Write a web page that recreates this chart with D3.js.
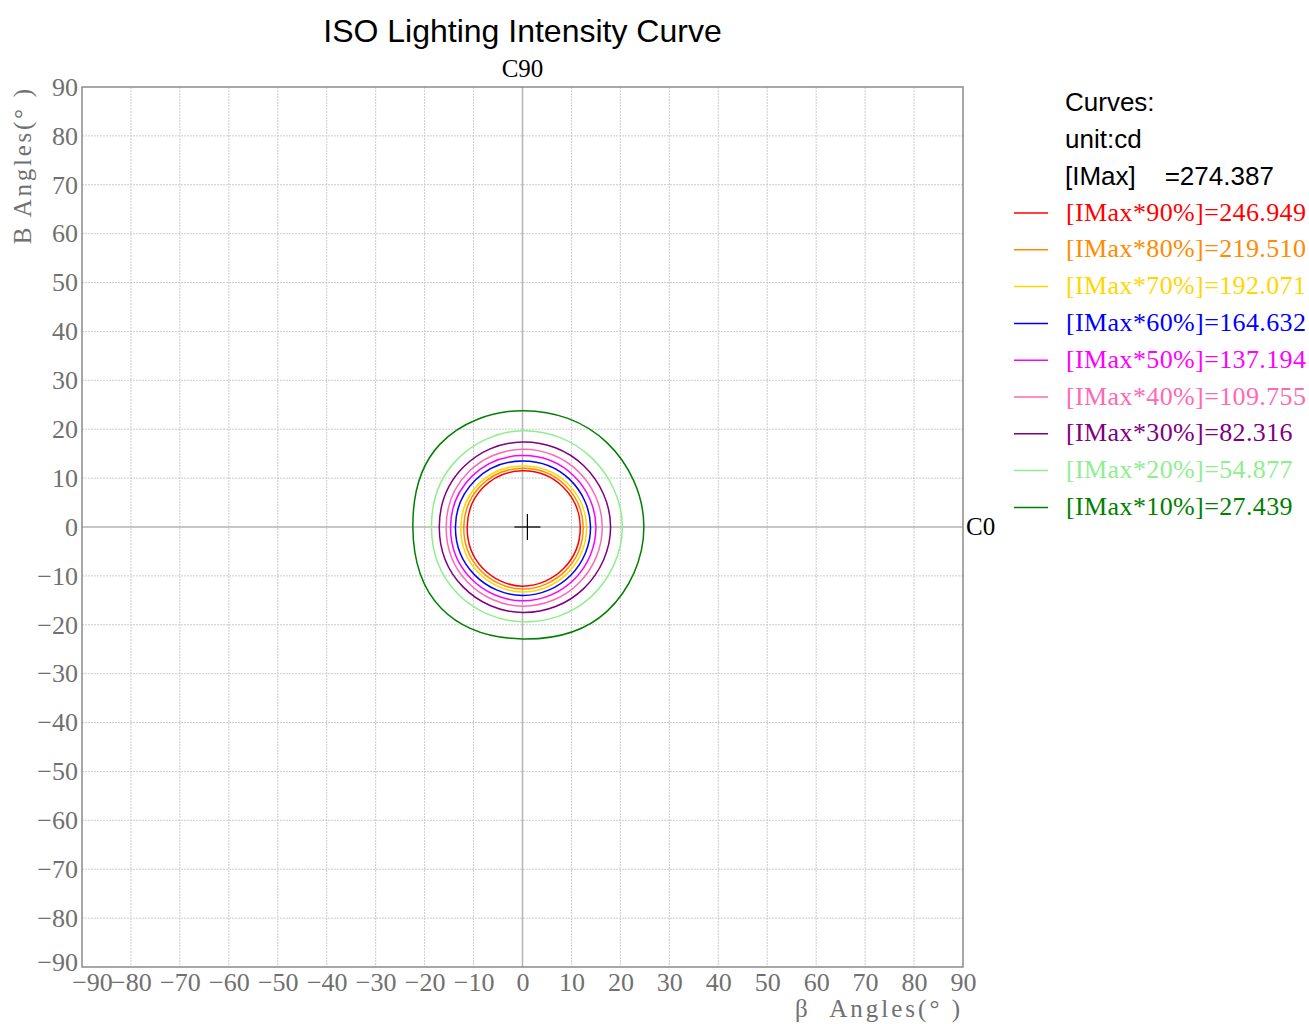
<!DOCTYPE html>
<html>
<head>
<meta charset="utf-8">
<script src="https://cdn.jsdelivr.net/npm/d3@7"></script>
<style>
  body { margin: 0; background: #fff; }
  svg text { white-space: pre; }
</style>
</head>
<body>
<div id="chart"></div>
<script>
// tick labels (degrees)
const xTicks = [-90, -80, -70, -60, -50, -40, -30, -20, -10, 0, 10, 20, 30, 40, 50, 60, 70, 80, 90];
const yTicks = [-90, -80, -70, -60, -50, -40, -30, -20, -10, 0, 10, 20, 30, 40, 50, 60, 70, 80, 90];

// iso curves: radius (deg) sampled at these directions around the origin
const angles = [0, 45, 90, 135, 180, 225, 270, 315];
const curveNames = ["[IMax*90%]", "[IMax*80%]", "[IMax*70%]", "[IMax*60%]", "[IMax*50%]",
                    "[IMax*40%]", "[IMax*30%]", "[IMax*20%]", "[IMax*10%]"];
const curveValues = ["246.949", "219.510", "192.071", "164.632", "137.194",
                     "109.755", "82.316", "54.877", "27.439"];
const curveColors = ["#ff0000", "#ff8c00", "#ffd700", "#0000ff", "#ff00ff",
                     "#ff69b4", "#800080", "#90ee90", "#008000"];
const radii90 = [11.8, 11.65, 11.5, 11.4, 11.3, 11.7, 12.1, 11.95];
const radii80 = [12.4, 12.2, 12.0, 12.0, 12.0, 12.35, 12.7, 12.55];
const radii70 = [13.1, 12.8, 12.5, 12.55, 12.6, 12.95, 13.3, 13.2];
const radii60 = [13.9, 13.7, 13.5, 13.6, 13.7, 13.85, 14.0, 13.95];
const radii50 = [15.0, 14.8, 14.6, 14.65, 14.7, 14.9, 15.1, 15.05];
const radii40 = [16.3, 16.1, 15.9, 15.75, 15.6, 15.9, 16.2, 16.25];
const radii30 = [18.0, 17.7, 17.4, 17.2, 17.0, 17.25, 17.5, 17.75];
const radii20 = [20.4, 20.0, 19.7, 19.2, 18.6, 19.0, 19.4, 20.0];
const radii10 = [24.8, 24.4, 23.8, 23.9, 22.4, 23.5, 22.9, 24.4];
const curveRadii = [radii90, radii80, radii70, radii60, radii50, radii40, radii30, radii20, radii10];

const iMax = "274.387";
const peak = [1, 0]; // crosshair position (deg)

const W = 1309, H = 1024;
const margin = { top: 87, right: 346, bottom: 57, left: 82 };
const width = W - margin.left - margin.right;
const height = H - margin.top - margin.bottom;

const svg = d3.select("#chart").append("svg")
    .attr("width", W)
    .attr("height", H);

const g = svg.append("g")
    .attr("transform", `translate(${margin.left},${margin.top})`);

const x = d3.scaleLinear().domain([-90, 90]).range([0, width]);
const y = d3.scaleLinear().domain([-90, 90]).range([height, 0]);

const serif = "'Liberation Serif', 'DejaVu Serif', serif";
const sans = "'Liberation Sans', Arial, sans-serif";
const fmt = v => (v < 0 ? "\u2212" + Math.abs(v) : "" + v);
const charW = 13.33; // the source font is monospaced for latin text

// grid
g.append("g")
    .selectAll("line")
    .data(xTicks.filter(t => t !== 0 && Math.abs(t) !== 90))
    .enter().append("line")
    .attr("x1", d => x(d)).attr("x2", d => x(d))
    .attr("y1", 0).attr("y2", height)
    .attr("stroke", "#cccccc")
    .attr("stroke-dasharray", "2,1");

g.append("g")
    .selectAll("line")
    .data(yTicks.filter(t => t !== 0 && Math.abs(t) !== 90))
    .enter().append("line")
    .attr("y1", d => y(d)).attr("y2", d => y(d))
    .attr("x1", 0).attr("x2", width)
    .attr("stroke", "#cccccc")
    .attr("stroke-dasharray", "2,1");

// zero lines
g.append("line")
    .attr("x1", x(0)).attr("x2", x(0)).attr("y1", 0).attr("y2", height)
    .attr("stroke", "#b4b4b4").attr("stroke-width", 1.5);
g.append("line")
    .attr("y1", y(0)).attr("y2", y(0)).attr("x1", 0).attr("x2", width)
    .attr("stroke", "#b4b4b4").attr("stroke-width", 1.5);

// frame
g.append("rect")
    .attr("width", width).attr("height", height)
    .attr("fill", "none")
    .attr("stroke", "#8a8a8a")
    .attr("stroke-width", 1.5);

// axes (labels only)
const xAxis = g.append("g")
    .attr("transform", `translate(0,${height})`)
    .call(d3.axisBottom(x).tickValues(xTicks).tickFormat(fmt).tickSize(0).tickPadding(6));
xAxis.select(".domain").remove();
xAxis.selectAll("text")
    .style("font-family", serif).style("font-size", "26px").attr("fill", "#707070")
    .filter(d => d === -90).attr("dx", 10);

const yAxis = g.append("g")
    .call(d3.axisLeft(y).tickValues(yTicks).tickFormat(fmt).tickSize(0).tickPadding(4));
yAxis.select(".domain").remove();
yAxis.selectAll("text")
    .style("font-family", serif).style("font-size", "26px").attr("fill", "#707070")
    .filter(d => d === -90).attr("y", -5);

// axis titles
const yTitle = "B Angles(\u00b0 )";
svg.append("text")
    .attr("transform", `translate(31,${margin.top + 2}) rotate(-90)`)
    .attr("text-anchor", "end")
    .attr("textLength", yTitle.length * charW * 0.97)
    .attr("lengthAdjust", "spacing")
    .style("font-family", serif).style("font-size", "25px").attr("fill", "#707070")
    .text(yTitle);

const xTitle = "\u03b2  Angles(\u00b0 )";
svg.append("text")
    .attr("x", 960).attr("y", 1017)
    .attr("text-anchor", "end")
    .attr("textLength", 165)
    .attr("lengthAdjust", "spacing")
    .style("font-family", serif).style("font-size", "25px").attr("fill", "#707070")
    .text(xTitle);

svg.append("text")
    .attr("x", margin.left + x(0)).attr("y", 77)
    .attr("text-anchor", "middle")
    .style("font-family", serif).style("font-size", "25px").attr("fill", "#000")
    .text("C90");

svg.append("text")
    .attr("x", margin.left + width + 3).attr("y", margin.top + y(0) + 8)
    .style("font-family", serif).style("font-size", "25px").attr("fill", "#000")
    .text("C0");

svg.append("text")
    .attr("x", margin.left + x(0)).attr("y", 42)
    .attr("text-anchor", "middle")
    .style("font-family", sans).style("font-size", "32px").attr("fill", "#000")
    .text("ISO Lighting Intensity Curve");

// curves (cardinal tension tuned so sampled circles stay round)
const line = d3.line()
    .x(d => x(d[0]))
    .y(d => y(d[1]))
    .curve(d3.curveCardinalClosed.tension(-0.12));

curveRadii.forEach((radii, i) => {
    const pts = angles.map((a, j) => {
        const t = a * Math.PI / 180;
        return [radii[j] * Math.cos(t), radii[j] * Math.sin(t)];
    });
    g.append("path")
        .datum(pts)
        .attr("d", line)
        .attr("fill", "none")
        .attr("stroke", curveColors[i])
        .attr("stroke-width", 1.5);
});

// peak crosshair
g.append("line")
    .attr("x1", x(peak[0]) - 13).attr("x2", x(peak[0]) + 13)
    .attr("y1", y(peak[1])).attr("y2", y(peak[1]))
    .attr("stroke", "#000").attr("stroke-width", 1.2);
g.append("line")
    .attr("x1", x(peak[0])).attr("x2", x(peak[0]))
    .attr("y1", y(peak[1]) - 13).attr("y2", y(peak[1]) + 13)
    .attr("stroke", "#000").attr("stroke-width", 1.2);

// legend
const lg = svg.append("g");
const headY = [102, 139, 176];
["Curves:", "unit:cd", "[IMax]    =" + iMax].forEach((t, i) => {
    lg.append("text")
        .attr("x", 1065).attr("y", headY[i])
        .attr("dominant-baseline", "central")
        .style("font-family", sans).style("font-size", "26px").attr("fill", "#000")
        .text(t);
});

const rowY = i => 212 + i * 36.8;
curveNames.forEach((name, i) => {
    const label = name + "=" + curveValues[i];
    lg.append("line")
        .attr("x1", 1014).attr("x2", 1048)
        .attr("y1", rowY(i) + 1).attr("y2", rowY(i) + 1)
        .attr("stroke", curveColors[i]).attr("stroke-width", 1.5);
    lg.append("text")
        .attr("x", 1066).attr("y", rowY(i))
        .attr("dominant-baseline", "central")
        .attr("textLength", label.length * charW)
        .attr("lengthAdjust", "spacing")
        .style("font-family", serif).style("font-size", "26px").attr("fill", curveColors[i])
        .text(label);
});
</script>
</body>
</html>
